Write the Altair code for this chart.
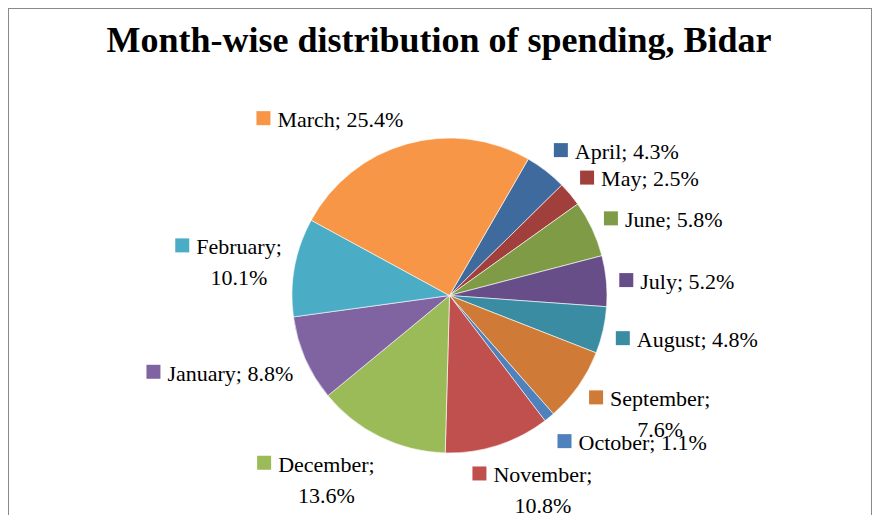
import math
import altair as alt
import pandas as pd

# ---- data ----
months = ["April", "May", "June", "July", "August", "September", "October",
          "November", "December", "January", "February", "March"]
shares = [4.3, 2.5, 5.8, 5.2, 4.8, 7.6, 1.1, 10.8, 13.6, 8.8, 10.1, 25.4]
colors = ["#3F6A9D", "#A13F3D", "#7F9B46", "#684E88", "#3A8CA3", "#CF7B37",
          "#4F81BD", "#C0504D", "#9BBB59", "#8064A2", "#4BACC6", "#F79646"]
two_line = ["September", "November", "December", "February"]
title_text = "Month-wise distribution of spending, Bidar"

# ---- layout ----
W, H = 864, 507
CX, CY, R = 441.5, 287.5, 157.5
START = 30.0          # first slice angle, degrees clockwise from 12 o'clock
FONT = "Liberation Serif"
FS = 22
LH = 31
LABEL_R = R + 13
KEY = 14
GAP = 7

# Times / Liberation Serif advance widths (per 1000 em)
TIMES = {
    "A": 722, "B": 667, "D": 722, "F": 556, "J": 389, "M": 889, "N": 722,
    "O": 722, "S": 556, "a": 444, "b": 500, "c": 444, "e": 444, "g": 500,
    "h": 500, "i": 278, "l": 278, "m": 778, "n": 500, "o": 500, "p": 500,
    "r": 333, "s": 389, "t": 278, "u": 500, "v": 500, "y": 500, ".": 250,
    ";": 278, "%": 833, " ": 250, ",": 250,
}


def text_w(s):
    return sum(TIMES.get(ch, 500) for ch in s) * FS / 1000.0


pie = pd.DataFrame({"month": months, "share": shares,
                    "idx": list(range(len(months)))})

keys, first, second = [], [], []
cum = 0.0
for m, v in zip(months, shares):
    mid = math.radians(START + (cum + v / 2.0) * 3.6)
    cum += v
    s, c = math.sin(mid), math.cos(mid)
    px, py = CX + LABEL_R * s, CY - LABEL_R * c
    pct = f"{v}%"
    lines = [f"{m};", pct] if m in two_line else [f"{m}; {pct}"]
    tw = max(text_w(t) for t in lines)
    w = KEY + GAP + tw
    h = LH * len(lines)
    f = 1.0 if s < 0 else max(0.0, 0.5 - 0.83 * s)
    left = px - f * w
    top = py - h * (1 + c) / 2.0
    base = top + 26
    keys.append({"month": m, "x": left + KEY / 2.0, "y": base - 8.8})
    first.append({"month": m, "x": left + KEY + GAP, "y": base, "text": lines[0]})
    if len(lines) > 1:
        second.append({"month": m, "x": left + KEY + GAP + tw / 2.0,
                       "y": base + LH, "text": lines[1]})

color_enc = alt.Color("month:N", scale=alt.Scale(domain=months, range=colors),
                      legend=None)

arc = alt.Chart(pie).mark_arc(outerRadius=R, stroke="#ffffff", strokeWidth=0.6).encode(
    theta=alt.Theta("share:Q", stack=True,
                    scale=alt.Scale(range=[math.radians(START),
                                           math.radians(START + 360)])),
    color=color_enc,
    order=alt.Order("idx:Q"),
    x=alt.value(CX),
    y=alt.value(CY),
)

key_layer = alt.Chart(pd.DataFrame(keys)).mark_square(
    size=KEY * KEY, opacity=1, filled=True, strokeWidth=0).encode(
    x=alt.X("x:Q", scale=None, axis=None),
    y=alt.Y("y:Q", scale=None, axis=None),
    color=color_enc,
)

txt1 = alt.Chart(pd.DataFrame(first)).mark_text(
    align="left", baseline="alphabetic", font=FONT, fontSize=FS, color="#000000").encode(
    x=alt.X("x:Q", scale=None, axis=None),
    y=alt.Y("y:Q", scale=None, axis=None),
    text="text:N",
)

txt2 = alt.Chart(pd.DataFrame(second)).mark_text(
    align="center", baseline="alphabetic", font=FONT, fontSize=FS, color="#000000").encode(
    x=alt.X("x:Q", scale=None, axis=None),
    y=alt.Y("y:Q", scale=None, axis=None),
    text="text:N",
)

title_layer = alt.Chart(pd.DataFrame({"t": [title_text]})).mark_text(
    align="center", baseline="alphabetic", font=FONT, fontSize=36,
    fontWeight="bold", color="#000000").encode(
    x=alt.value(431), y=alt.value(44.3), text="t:N",
)

one = pd.DataFrame({"a": [0]})
border_top = alt.Chart(one).mark_rule(color="#898989", strokeWidth=1).encode(
    x=alt.value(0.5), x2=alt.value(W - 0.5), y=alt.value(0.5))
border_left = alt.Chart(one).mark_rule(color="#898989", strokeWidth=1).encode(
    x=alt.value(0.5), y=alt.value(0), y2=alt.value(H))
border_right = alt.Chart(one).mark_rule(color="#898989", strokeWidth=1).encode(
    x=alt.value(W - 0.5), y=alt.value(0), y2=alt.value(H))

chart = alt.layer(
    border_top, border_left, border_right, arc, key_layer, txt1, txt2, title_layer
).properties(
    width=W, height=H,
    autosize=alt.AutoSizeParams(type="none"),
    padding=0,
).configure_view(strokeWidth=0)

chart.save("out.html", embed_options={"renderer": "svg", "actions": False})
